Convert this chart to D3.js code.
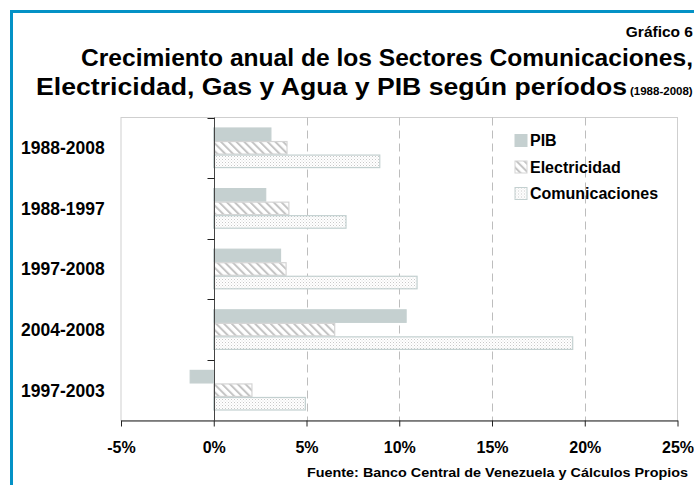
<!DOCTYPE html>
<html>
<head>
<meta charset="utf-8">
<script src="https://cdn.jsdelivr.net/npm/d3@7"></script>
<style>
  html, body { margin: 0; padding: 0; background: #fff; overflow: hidden; }
  text { font-family: "Liberation Sans", Arial, sans-serif; font-weight: bold; fill: #000; }
</style>
</head>
<body>
<div id="chart"></div>
<script>
// data (% annual growth)
const periods = ["1988-2008", "1988-1997", "1997-2008", "2004-2008", "1997-2003"];
const series = ["PIB", "Electricidad", "Comunicaciones"];
const pib = [3.08, 2.8, 3.6, 10.37, -1.27];
const electricidad = [3.95, 4.05, 3.9, 6.52, 2.06];
const comunicaciones = [8.95, 7.13, 10.96, 19.35, 4.94];
const xTicks = [-5, 0, 5, 10, 15, 20, 25];

const width = 694;
const height = 485;
const plot = { left: 121, right: 677.5, top: 117.5, bottom: 420.5 };

const svg = d3
  .select("#chart")
  .append("svg")
  .attr("width", width)
  .attr("height", height);

const defs = svg.append("defs");

// diagonal hatch for Electricidad
const hatch = defs.append("pattern")
  .attr("id", "hatch")
  .attr("patternUnits", "userSpaceOnUse")
  .attr("width", 5.5)
  .attr("height", 5.5)
  .attr("patternTransform", "rotate(-45)");
hatch.append("rect").attr("width", 5.5).attr("height", 5.5).attr("fill", "#fff");
hatch.append("rect").attr("x", 0).attr("width", 2).attr("height", 5.5).attr("fill", "#c4c4c4");

// fine dots for Comunicaciones
const dots = defs.append("pattern")
  .attr("id", "dots")
  .attr("patternUnits", "userSpaceOnUse")
  .attr("width", 3)
  .attr("height", 3);
dots.append("rect").attr("width", 3).attr("height", 3).attr("fill", "#fff");
dots.append("rect").attr("x", 0).attr("y", 0).attr("width", 1).attr("height", 1).attr("fill", "#c8c8c8");
dots.append("rect").attr("x", 1.5).attr("y", 1.5).attr("width", 1).attr("height", 1).attr("fill", "#dcdcdc");

const fills = { PIB: "#c5d0d0", Electricidad: "url(#hatch)", Comunicaciones: "url(#dots)" };
const strokes = { PIB: "#c5d0d0", Electricidad: "#d4d4d4", Comunicaciones: "#c3d0d0" };

const xPositionScale = d3.scaleLinear().domain([-5, 25]).range([plot.left, plot.right]);

const yPositionScale = d3.scaleBand()
  .domain(periods)
  .range([plot.top, plot.bottom])
  .paddingInner(0.33)
  .paddingOuter(0.165);

const seriesScale = d3.scaleBand()
  .domain(series)
  .range([0, yPositionScale.bandwidth()]);

// blue frame round the whole graphic
svg.append("rect")
  .attr("x", 11.5)
  .attr("y", 11.5)
  .attr("width", 900)
  .attr("height", 700)
  .attr("fill", "none")
  .attr("stroke", "#0492c6")
  .attr("stroke-width", 3);

// titles
svg.append("text")
  .text("Gráfico 6")
  .attr("x", 693)
  .attr("y", 37)
  .attr("text-anchor", "end")
  .style("font-size", "15.5px");

svg.append("text")
  .text("Crecimiento anual de los Sectores Comunicaciones,")
  .attr("x", 81)
  .attr("y", 66)
  .attr("textLength", 612)
  .attr("lengthAdjust", "spacingAndGlyphs")
  .style("font-size", "23.5px");

svg.append("text")
  .text("Electricidad, Gas y Agua y PIB según períodos")
  .attr("x", 36)
  .attr("y", 95)
  .attr("textLength", 591)
  .attr("lengthAdjust", "spacingAndGlyphs")
  .style("font-size", "23.5px");

svg.append("text")
  .text("(1988-2008)")
  .attr("x", 630)
  .attr("y", 95)
  .style("font-size", "11.5px");

// plot frame
svg.append("rect")
  .attr("x", plot.left)
  .attr("y", plot.top)
  .attr("width", plot.right - plot.left)
  .attr("height", plot.bottom - plot.top)
  .attr("fill", "none")
  .attr("stroke", "#cfcfcf");

// dashed gridlines
svg.append("g")
  .selectAll("line")
  .data(xTicks.filter((d) => d > 0 && d < 25))
  .enter()
  .append("line")
  .attr("x1", (d) => Math.round(xPositionScale(d)) + 0.5)
  .attr("x2", (d) => Math.round(xPositionScale(d)) + 0.5)
  .attr("y1", plot.top)
  .attr("y2", plot.bottom)
  .attr("stroke", "#bdbdbd")
  .attr("stroke-dasharray", "8,5");

// bars
const valuesBySeries = { PIB: pib, Electricidad: electricidad, Comunicaciones: comunicaciones };
const rows = [];
periods.forEach((p, i) => {
  series.forEach((s) => rows.push({ period: p, series: s, value: valuesBySeries[s][i] }));
});

svg.append("g")
  .selectAll("rect")
  .data(rows)
  .enter()
  .append("rect")
  .attr("x", (d) => xPositionScale(Math.min(0, d.value)))
  .attr("y", (d) => yPositionScale(d.period) + seriesScale(d.series) + 0.5)
  .attr("width", (d) => Math.abs(xPositionScale(d.value) - xPositionScale(0)))
  .attr("height", seriesScale.bandwidth() - 1)
  .attr("fill", (d) => fills[d.series])
  .attr("stroke", (d) => strokes[d.series])
  .attr("stroke-width", 1.2);

// zero line with category ticks
const x0 = Math.round(xPositionScale(0)) + 0.5;
svg.append("line")
  .attr("x1", x0)
  .attr("x2", x0)
  .attr("y1", plot.top)
  .attr("y2", plot.bottom)
  .attr("stroke", "#444");

const gap = (yPositionScale.step() - yPositionScale.bandwidth()) / 2;
const boundaries = periods.map((p) => yPositionScale(p) - gap);
svg.append("g")
  .selectAll("line")
  .data(boundaries)
  .enter()
  .append("line")
  .attr("x1", x0 - 7)
  .attr("x2", x0)
  .attr("y1", (d) => Math.round(d) + 0.5)
  .attr("y2", (d) => Math.round(d) + 0.5)
  .attr("stroke", "#222");

// category labels
svg.append("g")
  .selectAll("text")
  .data(periods)
  .enter()
  .append("text")
  .text((d) => d)
  .attr("x", 21)
  .attr("y", (d) => yPositionScale(d) + yPositionScale.bandwidth() / 2)
  .attr("dy", "0.36em")
  .style("font-size", "17.5px");

// bottom axis
const axisBottom = d3.axisBottom(xPositionScale)
  .tickValues(xTicks)
  .tickSize(6)
  .tickSizeOuter(0)
  .tickPadding(15)
  .tickFormat((d) => d + "%");

const axisG = svg.append("g")
  .attr("transform", `translate(0 ${plot.bottom})`)
  .call(axisBottom);
axisG.select(".domain").attr("stroke", "#222");
axisG.selectAll(".tick line").attr("stroke", "#222");
axisG.selectAll(".tick text")
  .attr("font-family", null)
  .style("font-size", "16px")
  .style("font-family", "'Liberation Sans', Arial, sans-serif")
  .style("font-weight", "bold")
  .attr("fill", "#000");

// legend
const legend = svg.append("g")
  .selectAll("g")
  .data(series)
  .enter()
  .append("g")
  .attr("transform", (d, i) => `translate(515 ${134.5 + i * 26.5})`);

legend.append("rect")
  .attr("width", 12)
  .attr("height", 12)
  .attr("fill", (d) => fills[d])
  .attr("stroke", (d) => strokes[d]);

legend.append("text")
  .text((d) => d)
  .attr("x", 15)
  .attr("y", 11.5)
  .style("font-size", "16px");

// source note
svg.append("text")
  .text("Fuente: Banco Central de Venezuela y Cálculos Propios")
  .attr("x", 307)
  .attr("y", 477)
  .attr("textLength", 381)
  .attr("lengthAdjust", "spacingAndGlyphs")
  .style("font-size", "12.5px");
</script>
</body>
</html>
